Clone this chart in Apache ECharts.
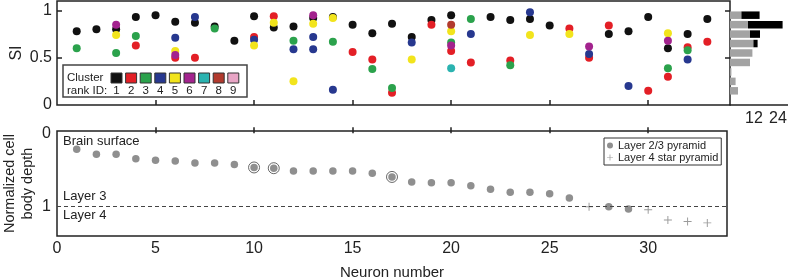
<!DOCTYPE html>
<html>
<head>
<meta charset="utf-8">
<script src="https://cdn.jsdelivr.net/npm/echarts@6/dist/echarts.min.js"></script>
<style>
  html, body { margin: 0; padding: 0; background: #fff; }
  #chart { width: 788px; height: 280px; }
</style>
</head>
<body>
<div id="chart"></div>
<script>
// SI of each neuron, one list per cluster rank ID: [neuron, SI]
const cluster1 = [[1,0.78],[2,0.80],[3,0.80],[4,0.93],[5,0.95],[6,0.88],[7,0.87],[8,0.83],[9,0.68],[10,0.94],[11,0.82],[12,0.83],[13,0.92],[14,0.93],[15,0.85],[16,0.76],[17,0.86],[18,0.72],[19,0.90],[20,0.95],[22,0.93],[23,0.90],[24,0.91],[25,0.84],[28,0.75],[29,0.78],[30,0.93],[31,0.60],[32,0.75],[33,0.91]];
const cluster2 = [[4,0.63],[6,0.50],[7,0.50],[10,0.72],[11,0.94],[15,0.56],[16,0.48],[17,0.13],[19,0.85],[20,0.57],[21,0.45],[23,0.47],[26,0.81],[27,0.50],[28,0.84],[30,0.15],[31,0.30],[32,0.61],[33,0.67]];
const cluster3 = [[1,0.60],[3,0.55],[4,0.73],[8,0.81],[12,0.68],[14,0.67],[16,0.38],[17,0.18],[20,0.66],[21,0.91],[23,0.42],[31,0.39],[32,0.58]];
const cluster4 = [[6,0.71],[7,0.93],[10,0.69],[12,0.59],[13,0.72],[13,0.59],[14,0.16],[18,0.66],[21,0.75],[24,0.98],[27,0.54],[29,0.20],[32,0.48]];
const cluster5 = [[3,0.74],[6,0.57],[10,0.63],[11,0.87],[12,0.25],[13,0.86],[14,0.92],[18,0.48],[20,0.78],[24,0.74],[26,0.75],[31,0.76]];
const cluster6 = [[3,0.85],[6,0.53],[13,0.95],[20,0.63],[27,0.62],[31,0.68]];
const cluster7 = [[20,0.39]];
const cluster8 = [[20,0.85]];
const cluster9 = [];

const clusterIds = ['1', '2', '3', '4', '5', '6', '7', '8', '9'];
const clusterColors = ['#111111', '#e31f26', '#2ba24c', '#27388f', '#f2e41c', '#a3238e', '#2bb3b0', '#b23a2e', '#e8a5c5'];

// SI histogram (right margin), bins of 0.1
const siBins = ['0-0.1', '0.1-0.2', '0.2-0.3', '0.3-0.4', '0.4-0.5', '0.5-0.6', '0.6-0.7', '0.7-0.8', '0.8-0.9', '0.9-1.0', '1.0-1.1'];
const histGray = [0, 4, 2.8, 0.7, 10, 11.2, 11.7, 10, 9, 5.7, 0];
const histBlack = [0, 0, 0, 0, 0, 0, 2.1, 5, 17.3, 9.1, 0];

// normalized cell body depth
const pyramidNeurons = [1,2,3,4,5,6,7,8,9,10,11,12,13,14,15,16,17,18,19,20,21,22,23,24,25,26,28,29];
const pyramidDepth = [0.22,0.29,0.29,0.35,0.37,0.38,0.41,0.41,0.43,0.47,0.48,0.52,0.52,0.52,0.52,0.55,0.60,0.67,0.68,0.68,0.72,0.77,0.81,0.81,0.83,0.89,1.01,1.04];
const starNeurons = [27, 30, 31, 32, 33];
const starDepth = [1.01, 1.05, 1.19, 1.21, 1.23];
const ringedNeurons = [10, 11, 17];

// ticks and labels
const neuronTicks = [5, 10, 15, 20, 25, 30];
const neuronLabels = [0, 5, 10, 15, 20, 25, 30];
const siTicks = [0.5, 1];
const siLabels = [0, 0.5, 1];
const depthLabels = [0, 1];
const countTicks = [12, 24];

const FONT = 'Liberation Sans';
const INK = '#222';
const PLUS = 'path://M4.4,0H5.6V4.4H10V5.6H5.6V10H4.4V5.6H0V4.4H4.4Z';

const pyramidData = pyramidNeurons.map((n, i) => [n, pyramidDepth[i]]);
const starData = starNeurons.map((n, i) => [n, starDepth[i]]);
const ringData = ringedNeurons.map((n) => [n, pyramidDepth[pyramidNeurons.indexOf(n)]]);
const clusterData = [cluster1, cluster2, cluster3, cluster4, cluster5, cluster6, cluster7, cluster8, cluster9];

// cluster key box in the top panel
const keyGraphics = [
  { type: 'rect', z: 100, shape: { x: 63, y: 65, width: 184, height: 32 }, style: { fill: '#fff', stroke: '#444', lineWidth: 1.5 } },
  { type: 'text', z: 101, x: 67, y: 78, style: { text: 'Cluster', font: `11.5px "${FONT}"`, fill: INK, verticalAlign: 'middle' } },
  { type: 'text', z: 101, x: 67, y: 91, style: { text: 'rank ID:', font: `11.5px "${FONT}"`, fill: INK, verticalAlign: 'middle' } },
];
clusterIds.forEach((id, i) => {
  keyGraphics.push({ type: 'rect', z: 101, shape: { x: 111 + 14.6 * i, y: 73, width: 11, height: 10 }, style: { fill: clusterColors[i], stroke: '#333', lineWidth: 1 } });
  keyGraphics.push({ type: 'text', z: 101, x: 116.5 + 14.6 * i, y: 91, style: { text: id, font: `11.5px "${FONT}"`, fill: INK, align: 'center', verticalAlign: 'middle' } });
});

const option = {
  animation: false,
  textStyle: { fontFamily: FONT, color: INK },
  grid: [
    { left: 57, top: 1, width: 673, height: 104, show: true, borderColor: '#222', borderWidth: 1.5, outerBoundsMode: 'none' },
    { left: 730, top: 1, width: 58, height: 104, outerBoundsMode: 'none' },
    { left: 57, top: 131, width: 670, height: 105, show: true, borderColor: '#222', borderWidth: 1.5, outerBoundsMode: 'none' },
  ],
  xAxis: [
    {
      gridIndex: 0, type: 'value', min: 0, max: 34.15,
      axisLine: { show: false }, splitLine: { show: false },
      axisTick: { inside: true, length: 5, customValues: neuronTicks, lineStyle: { color: '#222', width: 1.5 } },
      axisLabel: { show: false },
    },
    {
      gridIndex: 1, type: 'value', min: 0, max: 29,
      axisLine: { show: true, lineStyle: { color: '#222', width: 1.5 } }, splitLine: { show: false },
      axisTick: { inside: true, length: 5, customValues: countTicks, lineStyle: { color: '#222', width: 1.5 } },
      axisLabel: { customValues: countTicks, fontSize: 16, margin: 6, color: INK, fontFamily: FONT },
    },
    {
      gridIndex: 2, type: 'value', min: 0, max: 34,
      axisLine: { show: false }, splitLine: { show: false },
      axisTick: { inside: true, length: 6, customValues: neuronTicks, lineStyle: { color: '#222', width: 1.5 } },
      axisLabel: { customValues: neuronLabels, fontSize: 16, margin: 5, color: INK, fontFamily: FONT },
      name: 'Neuron number', nameLocation: 'middle', nameGap: 29, nameMoveOverlap: false,
      nameTextStyle: { fontSize: 15, color: INK, fontFamily: FONT },
    },
  ],
  yAxis: [
    {
      gridIndex: 0, type: 'value', min: 0, max: 1.1,
      axisLine: { show: false }, splitLine: { show: false },
      axisTick: { inside: true, length: 5, customValues: siTicks, lineStyle: { color: '#222', width: 1.5 } },
      axisLabel: { customValues: siLabels, fontSize: 16, margin: 5, color: INK, fontFamily: FONT },
      name: 'SI', nameLocation: 'middle', nameGap: 32, nameMoveOverlap: false,
      nameTextStyle: { fontSize: 16, color: INK, fontFamily: FONT },
    },
    {
      gridIndex: 0, type: 'value', position: 'right', min: 0, max: 1.1,
      axisLine: { show: false }, splitLine: { show: false },
      axisTick: { inside: true, length: 5, customValues: siTicks, lineStyle: { color: '#222', width: 1.5 } },
      axisLabel: { show: false },
    },
    {
      gridIndex: 1, type: 'category', data: siBins,
      axisLine: { show: false }, axisTick: { show: false }, axisLabel: { show: false },
    },
    {
      gridIndex: 2, type: 'value', min: -0.03, max: 1.41, inverse: true,
      axisLine: { show: false }, splitLine: { show: false }, axisTick: { show: false },
      axisLabel: { customValues: depthLabels, fontSize: 16, margin: 6, color: INK, fontFamily: FONT },
      name: 'Normalized cell\nbody depth', nameLocation: 'middle', nameGap: 20, nameMoveOverlap: false,
      nameTextStyle: { fontSize: 14.5, lineHeight: 18, align: 'center', color: INK, fontFamily: FONT },
    },
  ],
  legend: {
    data: ['Layer 2/3 pyramid', 'Layer 4 star pyramid'],
    left: 604, top: 138, orient: 'vertical',
    itemWidth: 6, itemHeight: 6, itemGap: 1,
    padding: [2, 3, 2, 3],
    borderColor: '#333', borderWidth: 1, backgroundColor: '#fff',
    textStyle: { fontSize: 11, lineHeight: 11, color: INK, fontFamily: FONT },
  },
  graphic: keyGraphics.concat([
    { type: 'text', x: 63, y: 141, style: { text: 'Brain surface', font: `13px "${FONT}"`, fill: INK, verticalAlign: 'middle' } },
    { type: 'text', x: 63, y: 196, style: { text: 'Layer 3', font: `13px "${FONT}"`, fill: INK, verticalAlign: 'middle' } },
    { type: 'text', x: 63, y: 215, style: { text: 'Layer 4', font: `13px "${FONT}"`, fill: INK, verticalAlign: 'middle' } },
  ]),
  series: clusterData.map((d, i) => ({
    name: clusterIds[i], type: 'scatter', xAxisIndex: 0, yAxisIndex: 0,
    data: d, symbolSize: 8, itemStyle: { color: clusterColors[i], opacity: 1 },
  })).concat([
    {
      name: 'gray', type: 'bar', xAxisIndex: 1, yAxisIndex: 2, stack: 'hist',
      data: histGray, barWidth: 7.5, itemStyle: { color: '#a3a3a3' },
    },
    {
      name: 'black', type: 'bar', xAxisIndex: 1, yAxisIndex: 2, stack: 'hist',
      data: histBlack, barWidth: 7.5, itemStyle: { color: '#000' },
    },
    {
      name: 'ring', type: 'scatter', xAxisIndex: 2, yAxisIndex: 3,
      data: ringData, symbolSize: 11,
      itemStyle: { color: '#fff', borderColor: '#444', borderWidth: 1 },
    },
    {
      name: 'Layer 2/3 pyramid', type: 'scatter', xAxisIndex: 2, yAxisIndex: 3,
      data: pyramidData, symbolSize: 7.5, itemStyle: { color: '#8f8f8f', opacity: 1 },
      markLine: {
        silent: true, symbol: 'none', label: { show: false },
        lineStyle: { color: '#444', width: 1, type: [4, 3] },
        data: [{ yAxis: 1 }],
      },
    },
    {
      name: 'Layer 4 star pyramid', type: 'scatter', xAxisIndex: 2, yAxisIndex: 3,
      data: starData, symbol: PLUS, symbolSize: 8, itemStyle: { color: '#9a9a9a', opacity: 1 },
    },
  ]),
};

const chart = echarts.init(document.getElementById('chart'));
chart.setOption(option);
</script>
</body>
</html>
